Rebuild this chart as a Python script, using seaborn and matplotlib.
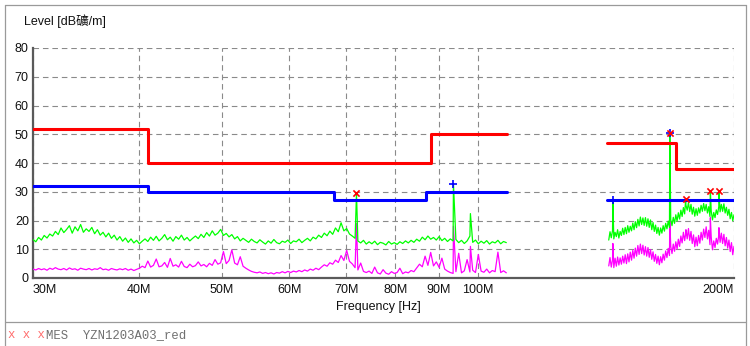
import numpy as np
import matplotlib
matplotlib.use("Agg")
import matplotlib.pyplot as plt
from matplotlib.lines import Line2D
from matplotlib.ticker import NullLocator
import seaborn as sns

# ---------------- data ----------------
tick_freqs_mhz = [30, 40, 50, 60, 70, 80, 90, 100, 200]
tick_labels = ["30M", "40M", "50M", "60M", "70M", "80M", "90M", "100M", "200M"]
y_ticks = [0, 10, 20, 30, 40, 50, 60, 70, 80]

# limit lines: band edges (MHz) and levels (dB)
red_left_edges = [30, 41, 88, 108.3]
red_left_levels = [52, 40, 50]
red_right_edges = [142, 171, 200]
red_right_levels = [47, 38]
blue_left_edges = [30, 41, 67.8, 87, 108.3]
blue_left_levels = [32, 30, 27, 30]
blue_right_edges = [142, 200]
blue_right_levels = [27.3]

# scan range of the two measured sections (MHz)
left_range = [30, 108]
right_range = [142.5, 200]

green_left = [
    13.4, 12.6, 14.1, 13.2, 14.8, 13.9, 15.3, 14.6, 16.2, 15.1,
    17.4, 15.8, 16.9, 18.2, 15.6, 17.8, 16.4, 18.6, 15.9, 17.1,
    16.2, 17.6, 15.4, 16.8, 14.9, 15.9, 14.3, 15.6, 13.8, 14.9,
    13.2, 14.4, 12.8, 13.9, 12.4, 13.6, 12.2, 13.1, 11.9, 12.8,
    13.6, 12.7, 14.2, 13.1, 14.5, 12.9, 13.8, 15.1, 13.3, 14.2,
    12.8, 14.4, 13.5, 14.9, 13.2, 14.1, 12.9, 13.8, 14.6, 13.7,
    15.2, 14.1, 15.8, 14.6, 16.4, 14.9, 15.6, 16.9, 14.8, 15.5,
    14.3, 15.1, 13.6, 14.4, 12.9, 13.8, 13.1, 12.4, 13.5, 12.7,
    12.2, 13.3, 12.5, 11.8, 12.9, 12.1, 13.4, 12.3, 11.9, 12.8,
    12.4, 13.2, 12.0, 12.9, 12.6, 13.5, 12.3, 13.1, 13.8, 12.9,
    14.2, 13.6, 14.9, 14.1, 15.6, 14.7, 16.3, 15.2, 17.4, 16.1,
    19.2, 16.4, 17.2, 15.3, 14.6, 13.8, 12.9, 12.2, 13.1, 11.8,
    12.6, 11.9, 12.8, 11.6, 12.4, 12.1, 11.5, 12.7, 11.8, 12.3,
    11.7, 12.6, 12.0, 12.9, 12.2, 13.1, 12.4, 13.5, 12.8, 14.2,
    13.3, 14.6, 13.5, 14.1, 13.2, 14.4, 13.0, 13.8, 12.7, 13.6,
    12.9, 13.4, 12.3, 13.1, 12.0, 12.9, 14.6, 12.4, 13.2, 11.9,
    12.8, 12.1, 13.0, 11.8, 12.6, 12.2, 13.1, 11.9, 12.7, 12.3,
]

magenta_left = [
    3.1, 2.8, 3.3, 2.9, 3.2, 2.7, 3.4, 3.0, 3.6, 3.1,
    2.9, 3.3, 2.8, 3.5, 3.0, 3.2, 2.7, 3.4, 3.1, 2.9,
    3.3, 2.8, 3.2, 3.0, 3.6, 2.9, 3.1, 2.7, 3.3, 3.0,
    2.8, 3.2, 2.9, 3.3, 2.7, 3.1, 2.6, 3.0, 3.4, 4.1,
    3.6, 5.9, 3.8, 4.4, 6.6, 3.9, 4.2, 5.4, 3.7, 6.8,
    4.1, 4.6, 3.8, 5.8, 4.0, 3.6, 4.8, 3.9, 4.3, 5.6,
    4.2, 4.7, 3.9, 5.1, 4.4, 6.4, 4.8, 5.3, 9.2, 5.0,
    6.1, 9.8, 5.2, 4.6, 7.4, 4.1, 3.4, 2.8, 2.3, 2.0,
    1.8, 2.1, 1.6, 1.9, 1.5, 1.8, 1.4, 1.9, 1.7, 2.2,
    1.8, 2.3, 1.9, 2.4, 2.1, 2.6, 2.2, 2.8, 2.4, 3.1,
    2.7, 3.4, 2.9, 3.8, 4.6, 4.1, 5.3, 4.8, 6.2, 5.4,
    7.8, 6.1, 9.6, 5.8, 4.9, 3.6, 2.8, 5.2, 2.3, 1.9,
    2.4, 1.6, 3.8, 1.8, 1.4, 2.9, 1.7, 1.3, 2.2, 1.6,
    1.9, 3.4, 1.5, 2.1, 1.8, 2.6, 2.2, 3.5, 4.8, 3.9,
    7.6, 4.4, 8.9, 4.2, 5.6, 3.7, 6.9, 3.1, 2.4, 1.9,
    1.6, 2.2, 8.6, 1.8, 2.5, 6.4, 2.1, 2.7, 1.9, 8.2,
    2.4, 2.0, 3.1, 1.8, 2.6, 2.2, 9.0, 1.9, 2.5, 1.8,
]

green_right = [
    13.2, 16.1, 14.0, 16.5, 13.6, 15.9, 14.4, 16.8, 13.9, 16.2,
    14.8, 17.3, 15.1, 17.6, 15.4, 18.2, 15.9, 18.0, 16.4, 19.1,
    16.8, 19.6, 17.5, 20.4, 18.1, 21.2, 18.6, 20.9, 18.3, 21.0,
    18.0, 20.6, 17.6, 20.2, 16.8, 19.3, 16.2, 18.4, 15.5, 17.6,
    14.9, 17.4, 15.6, 18.2, 16.3, 19.0, 17.1, 19.8, 17.6, 20.3,
    18.2, 21.1, 19.0, 22.0, 19.8, 22.7, 20.5, 23.6, 21.4, 24.5,
    22.3, 25.4, 23.6, 26.2, 23.1, 25.6, 22.2, 24.6, 21.5, 24.1,
    21.8, 24.4, 22.6, 25.3, 23.2, 25.9, 23.4, 25.6, 22.6, 24.8,
    21.4, 23.3, 20.2, 22.8, 21.0, 23.7, 22.1, 24.9, 23.0, 25.6,
    23.2, 25.8, 22.6, 24.6, 21.8, 23.9, 20.6, 22.8, 19.9, 22.0,
]

magenta_right = [
    4.2, 7.1, 3.8, 6.4, 3.6, 6.9, 4.1, 7.3, 4.5, 7.0,
    4.8, 7.6, 5.2, 8.1, 5.0, 8.4, 5.6, 9.0, 6.2, 9.6,
    6.9, 10.4, 7.6, 11.3, 8.2, 11.8, 8.5, 11.4, 8.0, 10.9,
    7.6, 10.6, 7.2, 9.9, 6.5, 9.1, 5.8, 8.2, 5.1, 7.6,
    4.6, 7.4, 5.3, 8.3, 6.2, 9.4, 7.1, 10.3, 7.8, 11.0,
    8.5, 11.8, 9.3, 12.6, 10.1, 13.5, 11.0, 14.6, 12.2, 15.9,
    13.0, 16.8, 13.6, 17.2, 13.1, 16.2, 12.0, 15.0, 10.9, 14.2,
    11.2, 14.8, 12.1, 15.9, 13.2, 17.0, 14.1, 17.8, 13.6, 16.6,
    11.6, 14.2, 9.8, 12.9, 10.6, 13.8, 11.8, 15.0, 12.4, 15.6,
    12.0, 15.2, 11.2, 14.1, 10.4, 13.2, 9.2, 12.3, 8.1, 11.0,
]

# narrow emission spikes (MHz, dB)
spike_left_freqs = [72.0, 93.6, 98.0]
spike_left_green = [29.4, 32.8, 22.4]
spike_left_magenta = [19.0, 18.0, 11.0]
spike_right_freqs = [144.1, 168.1, 175.5, 187.6, 192.0]
spike_right_green = [27.3, 50.6, 27.6, 30.3, 30.3]
spike_right_magenta = [12.0, 20.0, 15.5, 21.0, 17.5]

# final measurement markers
red_x_freqs = [72.0, 168.1, 175.5, 187.6, 192.0]
red_x_levels = [29.4, 50.6, 27.6, 30.3, 30.3]
blue_plus_freqs = [93.6, 144.1, 168.1]
blue_plus_levels = [32.8, 27.3, 50.6]

# ---------------- helpers ----------------
MHZ = 1e6


def trace(rng, vals, sf, sv):
    f = np.geomspace(rng[0], rng[1], len(vals))
    x = np.concatenate([f, np.asarray(sf, float)]) * MHZ
    y = np.concatenate([np.asarray(vals, float), np.asarray(sv, float)])
    o = np.argsort(x, kind="stable")
    return x[o], y[o]


def steps(edges, levels):
    x = np.repeat(np.asarray(edges, float), 2)[1:-1] * MHZ
    y = np.repeat(np.asarray(levels, float), 2)
    return x, y


# ---------------- figure ----------------
sns.set_style("white")
plt.rcParams["font.family"] = ["Liberation Sans", "Noto Sans CJK SC", "DejaVu Sans"]

W, H = 750, 346
fig = plt.figure(figsize=(W / 100, H / 100), dpi=100)
L, R, T, B = 33, 734, 48, 278
ax = fig.add_axes([L / W, 1 - B / H, (R - L) / W, (B - T) / H])
ax.set_xscale("log")

GREEN = "#00ff00"
MAGENTA = "#ff00ff"
RED = "#ff0000"
BLUE = "#0000ff"

lw_trace = 0.9
for rng, vals, sf, sv in [
    (left_range, magenta_left, spike_left_freqs, spike_left_magenta),
    (right_range, magenta_right, spike_right_freqs, spike_right_magenta),
]:
    x, y = trace(rng, vals, sf, sv)
    sns.lineplot(x=x, y=y, ax=ax, color=MAGENTA, lw=lw_trace, estimator=None,
                 sort=False, zorder=3)

for rng, vals, sf, sv in [
    (left_range, green_left, spike_left_freqs, spike_left_green),
    (right_range, green_right, spike_right_freqs, spike_right_green),
]:
    x, y = trace(rng, vals, sf, sv)
    sns.lineplot(x=x, y=y, ax=ax, color=GREEN, lw=lw_trace, estimator=None,
                 sort=False, zorder=4)

for edges, levels, col in [
    (blue_left_edges, blue_left_levels, BLUE),
    (blue_right_edges, blue_right_levels, BLUE),
    (red_left_edges, red_left_levels, RED),
    (red_right_edges, red_right_levels, RED),
]:
    x, y = steps(edges, levels)
    sns.lineplot(x=x, y=y, ax=ax, color=col, lw=2.2, estimator=None,
                 sort=False, zorder=5)

sns.scatterplot(x=np.asarray(blue_plus_freqs) * MHZ, y=blue_plus_levels, ax=ax,
                marker="+", s=30, color=BLUE, linewidth=1.2, zorder=6)
sns.scatterplot(x=np.asarray(red_x_freqs) * MHZ, y=red_x_levels, ax=ax,
                marker="x", s=20, color=RED, linewidth=1.2, zorder=7)

# axes styling
ax.set_xlim(30 * MHZ, 200 * MHZ)
ax.set_ylim(0, 80)
ax.set_xticks([f * MHZ for f in tick_freqs_mhz])
ax.set_xticklabels(tick_labels)
ax.xaxis.set_minor_locator(NullLocator())
ax.set_yticks(y_ticks)
ax.set_yticklabels([str(v) for v in y_ticks])
ax.tick_params(axis="both", length=0, labelsize=9, colors="#111111")
ax.tick_params(axis="x", pad=4.5)
ax.tick_params(axis="y", pad=3)
lbls = ax.get_xticklabels()
lbls[0].set_horizontalalignment("left")
lbls[-1].set_horizontalalignment("right")
ax.set_xlabel("")
ax.set_ylabel("")

ax.grid(True, which="major", color="#8a8a8a", linestyle=(0, (5, 3.5)), linewidth=0.8)
ax.set_axisbelow(True)
for s in ["top", "right"]:
    ax.spines[s].set_visible(False)
for s in ["left", "bottom"]:
    ax.spines[s].set_color("#5a5a5a")
    ax.spines[s].set_linewidth(1.6)
ax.patch.set_alpha(0)

# texts
fig.text(24 / W, 1 - 21 / H, "Level [dB礦/m]", fontsize=9, ha="left", va="center",
         color="#111111")
fig.text(378 / W, 1 - 307 / H, "Frequency [Hz]", fontsize=9, ha="center",
         va="center", color="#111111")
fig.text(8 / W, 1 - 335 / H, "x x x", fontsize=8.8, family="Liberation Mono",
         ha="left", va="center", color="#ff6b6b")
fig.text(45.5 / W, 1 - 335 / H, "MES  YZN1203A03_red", fontsize=8.8,
         family="Liberation Mono", ha="left", va="center", color="#707070")

# outer frame and divider
fc = "#9a9a9a"
for (x0, y0, x1, y1) in [(4.5, 4.5, 745.5, 4.5), (4.5, 4.5, 4.5, 346),
                         (745.5, 4.5, 745.5, 346), (4.5, 321.5, 745.5, 321.5)]:
    fig.add_artist(Line2D([x0 / W, x1 / W], [1 - y0 / H, 1 - y1 / H],
                          transform=fig.transFigure, color=fc, lw=0.9))

fig.savefig("out.png", dpi=100)
